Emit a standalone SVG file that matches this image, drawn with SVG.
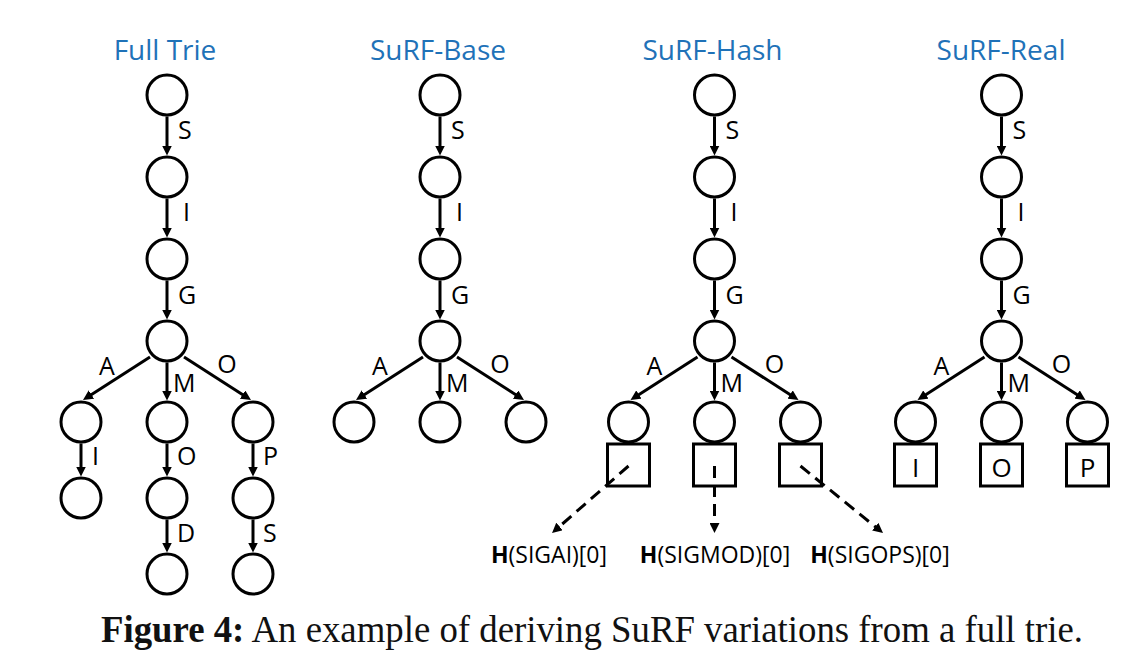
<svg xmlns="http://www.w3.org/2000/svg" width="1138" height="668" viewBox="0 0 1138 668">
<style>
.title{font-family:"Open Sans","Noto Sans",sans-serif;font-size:28px;fill:#1f72b8;text-anchor:middle}
.lbl{font-family:"Open Sans","Noto Sans",sans-serif;font-size:25px;fill:#000}
.mid{text-anchor:middle}
.hl{font-family:"Open Sans","Noto Sans",sans-serif;font-size:23px;fill:#000;text-anchor:middle}
.sq{font-family:"Open Sans","Noto Sans",sans-serif;font-size:26px;fill:#000;text-anchor:middle}
.node{fill:#fff;stroke:#000;stroke-width:3}
.edge{stroke:#000;stroke-width:3;fill:none}
.dash{stroke:#000;stroke-width:3;fill:none;stroke-dasharray:12 7}
.cap{font-family:"Liberation Serif","Times New Roman",serif;font-size:38px;fill:#111}
</style>
<defs>
<marker id="arr" markerUnits="userSpaceOnUse" markerWidth="10" markerHeight="10" refX="3" refY="5" orient="auto">
<path d="M0,0 L10,5 L0,10 z" fill="#000"/>
</marker>
</defs>
<rect width="1138" height="668" fill="#fff"/>

<text class="title" x="165" y="60">Full Trie</text>
<text class="title" x="438" y="60">SuRF-Base</text>
<text class="title" x="712.5" y="60">SuRF-Hash</text>
<text class="title" x="1001" y="60">SuRF-Real</text>

<!-- Full Trie -->
<g id="full-trie" transform="translate(167,0)">
<g id="full-connectors">
<line class="edge" x1="0" y1="116.5" x2="0" y2="148.5" marker-end="url(#arr)"/>
<line class="edge" x1="0" y1="198.5" x2="0" y2="230.5" marker-end="url(#arr)"/>
<line class="edge" x1="0" y1="280.5" x2="0" y2="312.5" marker-end="url(#arr)"/>
<line class="edge" x1="-17" y1="357" x2="-78.1" y2="396.2" marker-end="url(#arr)"/>
<line class="edge" x1="0" y1="362.5" x2="0" y2="393.5" marker-end="url(#arr)"/>
<line class="edge" x1="17" y1="357" x2="78.1" y2="396.2" marker-end="url(#arr)"/>
<line class="edge" x1="-86" y1="443.5" x2="-86" y2="469.5" marker-end="url(#arr)"/>
<line class="edge" x1="0" y1="443.5" x2="0" y2="469.5" marker-end="url(#arr)"/>
<line class="edge" x1="86" y1="443.5" x2="86" y2="469.5" marker-end="url(#arr)"/>
<line class="edge" x1="0" y1="519.5" x2="0" y2="545.5" marker-end="url(#arr)"/>
<line class="edge" x1="86" y1="519.5" x2="86" y2="545.5" marker-end="url(#arr)"/>
<text class="lbl" x="11" y="139">S</text>
<text class="lbl" x="16" y="221">I</text>
<text class="lbl" x="11" y="304">G</text>
<text class="lbl mid" x="-60" y="375">A</text>
<text class="lbl" x="6" y="392">M</text>
<text class="lbl mid" x="60" y="373">O</text>
<text class="lbl" x="-75" y="465">I</text>
<text class="lbl" x="10" y="465">O</text>
<text class="lbl" x="96" y="465">P</text>
<text class="lbl" x="10" y="542">D</text>
<text class="lbl" x="96" y="542">S</text>
</g>
<g id="full-n1"><circle class="node" cx="0" cy="95" r="20"/></g>
<g id="full-n2"><circle class="node" cx="0" cy="177" r="20"/></g>
<g id="full-n3"><circle class="node" cx="0" cy="259" r="20"/></g>
<g id="full-n4"><circle class="node" cx="0" cy="341" r="20"/></g>
<g id="full-a"><circle class="node" cx="-86" cy="422" r="20"/></g>
<g id="full-m"><circle class="node" cx="0" cy="422" r="20"/></g>
<g id="full-o"><circle class="node" cx="86" cy="422" r="20"/></g>
<g id="full-ai"><circle class="node" cx="-86" cy="498" r="20"/></g>
<g id="full-mo"><circle class="node" cx="0" cy="498" r="20"/></g>
<g id="full-op"><circle class="node" cx="86" cy="498" r="20"/></g>
<g id="full-mod"><circle class="node" cx="0" cy="574" r="20"/></g>
<g id="full-ops"><circle class="node" cx="86" cy="574" r="20"/></g>
</g>

<!-- SuRF-Base -->
<g id="surf-base" transform="translate(440,0)">
<g id="base-connectors">
<line class="edge" x1="0" y1="116.5" x2="0" y2="148.5" marker-end="url(#arr)"/>
<line class="edge" x1="0" y1="198.5" x2="0" y2="230.5" marker-end="url(#arr)"/>
<line class="edge" x1="0" y1="280.5" x2="0" y2="312.5" marker-end="url(#arr)"/>
<line class="edge" x1="-17" y1="357" x2="-78.1" y2="396.2" marker-end="url(#arr)"/>
<line class="edge" x1="0" y1="362.5" x2="0" y2="393.5" marker-end="url(#arr)"/>
<line class="edge" x1="17" y1="357" x2="78.1" y2="396.2" marker-end="url(#arr)"/>
<text class="lbl" x="11" y="139">S</text>
<text class="lbl" x="16" y="221">I</text>
<text class="lbl" x="11" y="304">G</text>
<text class="lbl mid" x="-60" y="375">A</text>
<text class="lbl" x="6" y="392">M</text>
<text class="lbl mid" x="60" y="373">O</text>
</g>
<g id="base-n1"><circle class="node" cx="0" cy="95" r="20"/></g>
<g id="base-n2"><circle class="node" cx="0" cy="177" r="20"/></g>
<g id="base-n3"><circle class="node" cx="0" cy="259" r="20"/></g>
<g id="base-n4"><circle class="node" cx="0" cy="341" r="20"/></g>
<g id="base-a"><circle class="node" cx="-86" cy="422" r="20"/></g>
<g id="base-m"><circle class="node" cx="0" cy="422" r="20"/></g>
<g id="base-o"><circle class="node" cx="86" cy="422" r="20"/></g>
</g>

<!-- SuRF-Hash -->
<g id="surf-hash" transform="translate(714.5,0)">
<g id="hash-connectors">
<line class="edge" x1="0" y1="116.5" x2="0" y2="148.5" marker-end="url(#arr)"/>
<line class="edge" x1="0" y1="198.5" x2="0" y2="230.5" marker-end="url(#arr)"/>
<line class="edge" x1="0" y1="280.5" x2="0" y2="312.5" marker-end="url(#arr)"/>
<line class="edge" x1="-17" y1="357" x2="-78.1" y2="396.2" marker-end="url(#arr)"/>
<line class="edge" x1="0" y1="362.5" x2="0" y2="393.5" marker-end="url(#arr)"/>
<line class="edge" x1="17" y1="357" x2="78.1" y2="396.2" marker-end="url(#arr)"/>
<text class="lbl" x="11" y="139">S</text>
<text class="lbl" x="16" y="221">I</text>
<text class="lbl" x="11" y="304">G</text>
<text class="lbl mid" x="-60" y="375">A</text>
<text class="lbl" x="6" y="392">M</text>
<text class="lbl mid" x="60" y="373">O</text>
</g>
<g id="hash-n1"><circle class="node" cx="0" cy="95" r="20"/></g>
<g id="hash-n2"><circle class="node" cx="0" cy="177" r="20"/></g>
<g id="hash-n3"><circle class="node" cx="0" cy="259" r="20"/></g>
<g id="hash-n4"><circle class="node" cx="0" cy="341" r="20"/></g>
<g id="hash-a"><circle class="node" cx="-86" cy="422" r="20"/><rect class="node" x="-107" y="444" width="42" height="42"/></g>
<g id="hash-m"><circle class="node" cx="0" cy="422" r="20"/><rect class="node" x="-21" y="444" width="42" height="42"/></g>
<g id="hash-o"><circle class="node" cx="86" cy="422" r="20"/><rect class="node" x="65" y="444" width="42" height="42"/></g>
<g id="hash-dashed">
<line class="dash" x1="-86" y1="466" x2="-157.2" y2="528.4" marker-end="url(#arr)"/>
<line class="dash" x1="0" y1="466" x2="0" y2="526" marker-end="url(#arr)"/>
<line class="dash" x1="86" y1="466" x2="163.1" y2="528.6" marker-end="url(#arr)"/>
</g>
</g>
<g id="hash-labels">
<text class="hl" x="549" y="563"><tspan font-weight="bold">H</tspan>(SIGAI)[0]</text>
<text class="hl" x="715" y="563"><tspan font-weight="bold">H</tspan>(SIGMOD)[0]</text>
<text class="hl" x="880" y="563"><tspan font-weight="bold">H</tspan>(SIGOPS)[0]</text>
</g>

<!-- SuRF-Real -->
<g id="surf-real" transform="translate(1001.5,0)">
<g id="real-connectors">
<line class="edge" x1="0" y1="116.5" x2="0" y2="148.5" marker-end="url(#arr)"/>
<line class="edge" x1="0" y1="198.5" x2="0" y2="230.5" marker-end="url(#arr)"/>
<line class="edge" x1="0" y1="280.5" x2="0" y2="312.5" marker-end="url(#arr)"/>
<line class="edge" x1="-17" y1="357" x2="-78.1" y2="396.2" marker-end="url(#arr)"/>
<line class="edge" x1="0" y1="362.5" x2="0" y2="393.5" marker-end="url(#arr)"/>
<line class="edge" x1="17" y1="357" x2="78.1" y2="396.2" marker-end="url(#arr)"/>
<text class="lbl" x="11" y="139">S</text>
<text class="lbl" x="16" y="221">I</text>
<text class="lbl" x="11" y="304">G</text>
<text class="lbl mid" x="-60" y="375">A</text>
<text class="lbl" x="6" y="392">M</text>
<text class="lbl mid" x="60" y="373">O</text>
</g>
<g id="real-n1"><circle class="node" cx="0" cy="95" r="20"/></g>
<g id="real-n2"><circle class="node" cx="0" cy="177" r="20"/></g>
<g id="real-n3"><circle class="node" cx="0" cy="259" r="20"/></g>
<g id="real-n4"><circle class="node" cx="0" cy="341" r="20"/></g>
<g id="real-a"><circle class="node" cx="-86" cy="422" r="20"/><rect class="node" x="-107" y="444" width="42" height="42"/><text class="sq" x="-86" y="477">I</text></g>
<g id="real-m"><circle class="node" cx="0" cy="422" r="20"/><rect class="node" x="-21" y="444" width="42" height="42"/><text class="sq" x="0" y="477">O</text></g>
<g id="real-o"><circle class="node" cx="86" cy="422" r="20"/><rect class="node" x="65" y="444" width="42" height="42"/><text class="sq" x="86" y="477">P</text></g>
</g>

<text class="cap" x="101" y="642" textLength="982" lengthAdjust="spacingAndGlyphs"><tspan font-weight="bold">Figure 4:</tspan> An example of deriving SuRF variations from a full trie.</text>
</svg>
